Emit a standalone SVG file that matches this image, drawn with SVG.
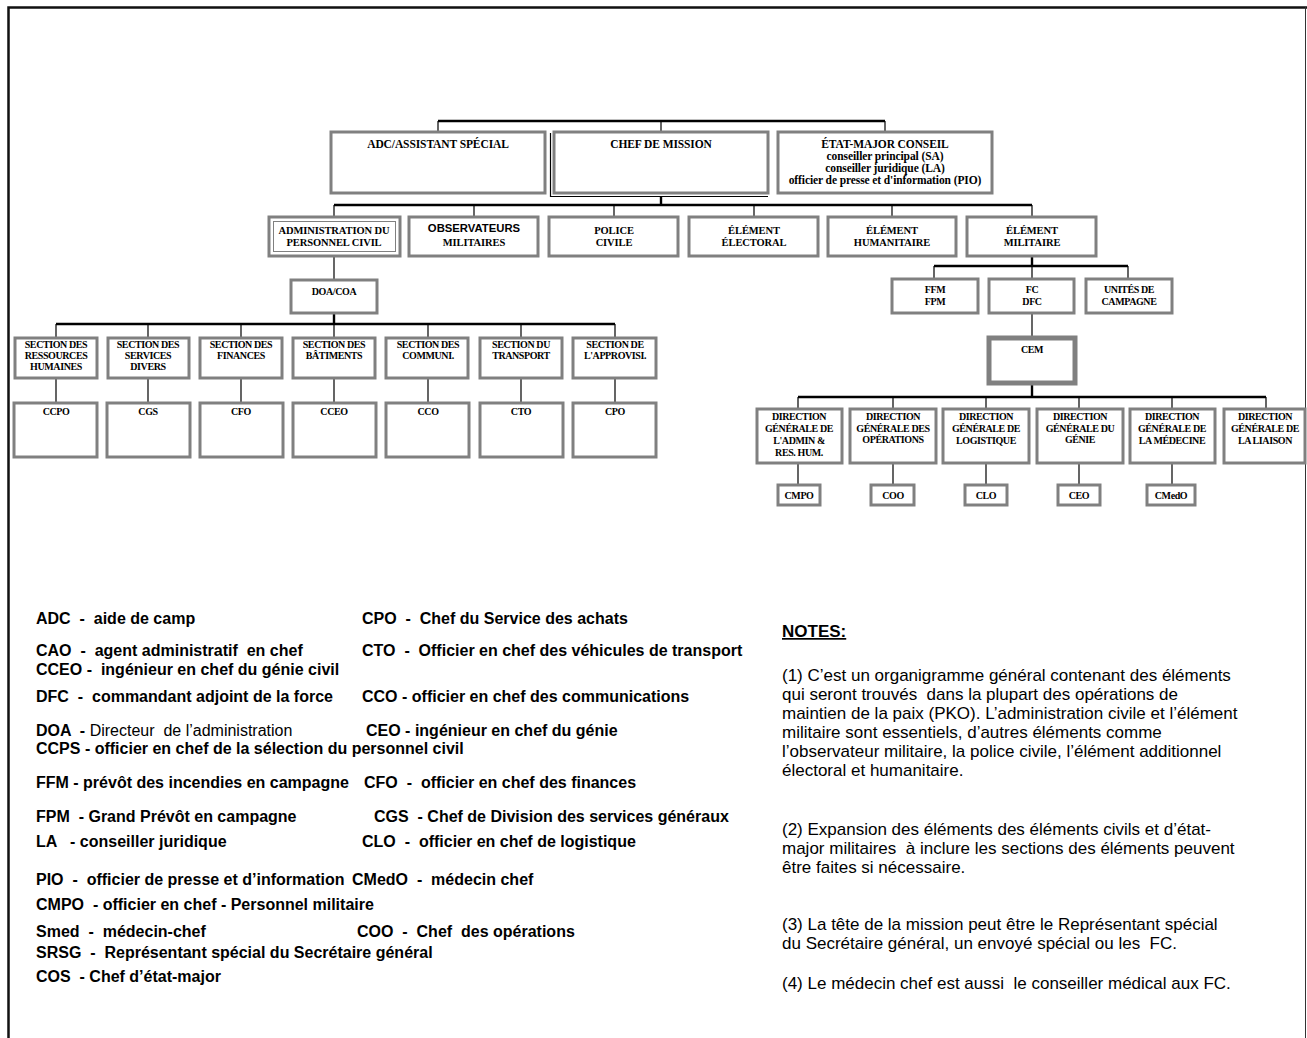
<svg xmlns="http://www.w3.org/2000/svg" width="1307" height="1038" viewBox="0 0 1307 1038">
<style>
.bg{fill:#fff}
.box{fill:#fff;stroke:#808080;stroke-width:3}
.thin{fill:none;stroke:#808080;stroke-width:1}
.cem{fill:#fff;stroke:#808080;stroke-width:5}
.bus{stroke:#000;stroke-width:2.6;fill:none}
.ln{stroke:#000;stroke-width:1.2;fill:none}
.lnk{stroke:#000;stroke-width:2.4;fill:none}
.t{font-family:"Liberation Serif","Times New Roman",serif;font-weight:bold;font-size:10px;text-anchor:middle;letter-spacing:-0.4px;fill:#000}
.t1{font-size:11.5px;letter-spacing:-0.1px}
.t2{font-size:10.5px;letter-spacing:-0.1px}
.ts{font-family:"Liberation Sans",Arial,sans-serif;font-weight:bold;font-size:11.3px;text-anchor:middle;fill:#000}
.lg{font-family:"Liberation Sans",Arial,sans-serif;font-weight:bold;font-size:16px;fill:#000;white-space:pre}
.lr{font-weight:normal}
.nt{font-family:"Liberation Sans",Arial,sans-serif;font-size:17px;fill:#000;white-space:pre}
</style>
<rect class="bg" x="0" y="0" width="1307" height="1038"/>
<path d="M8.5 1038 V7.5 H1307" stroke="#111" stroke-width="2.5" fill="none"/>
<line x1="1305.5" y1="7" x2="1305.5" y2="1038" stroke="#333" stroke-width="1"/>

<g id="connectors">
<path class="bus" d="M438 121 H885"/>
<path class="ln" d="M438 121 V132 M661 121 V132 M885 121 V132"/>
<path class="lnk" d="M661 196 V205"/>
<path class="bus" d="M334 205 H1032"/>
<path class="ln" d="M334 205 V217 M474 205 V217 M614 205 V217 M754 205 V217 M892 205 V217 M1032 205 V217"/>
<path class="ln" d="M334 256 V280"/>
<path class="lnk" d="M334 313 V324"/>
<path class="bus" d="M56 324 H615"/>
<path class="ln" d="M56 324 V338 M148 324 V338 M241 324 V338 M334 324 V338 M428 324 V338 M521 324 V338 M615 324 V338"/>
<path class="ln" d="M56 378 V403 M148 378 V403 M241 378 V403 M334 378 V403 M428 378 V403 M521 378 V403 M615 378 V403"/>
<path class="lnk" d="M1032 256 V266"/>
<path class="bus" d="M934 266 H1128"/>
<path class="ln" d="M934 266 V279 M1032 266 V279 M1128 266 V279"/>
<path class="ln" d="M1032 313 V338"/>
<path class="lnk" d="M1032 383 V397"/>
<path class="bus" d="M798 397 H1266"/>
<path class="ln" d="M798 397 V409 M893 397 V409 M986 397 V409 M1079 397 V409 M1172 397 V409 M1266 397 V409"/>
<path class="ln" d="M798 463 V485 M893 463 V485 M986 463 V485 M1079 463 V485 M1172 463 V485"/>
</g>

<g id="adc"><rect class="box" x="331" y="132" width="214" height="61"/><text class="t t1" x="438" y="147.5">ADC/ASSISTANT SPÉCIAL</text></g>
<g id="chef"><rect class="box" x="554" y="132" width="214" height="61"/><path d="M550.5 133 V196.5 H768" stroke="#000" stroke-width="1.2" fill="none"/><text class="t t1" x="661" y="147.5">CHEF DE MISSION</text></g>
<g id="etat"><rect class="box" x="778" y="132" width="214" height="61"/>
<text class="t t1" x="885" y="147.5">ÉTAT-MAJOR CONSEIL</text>
<text class="t t1" x="885" y="159.5">conseiller principal (SA)</text>
<text class="t t1" x="885" y="171.5">conseiller juridique (LA)</text>
<text class="t t1" x="885" y="183.5">officier de presse et d'information (PIO)</text></g>

<g id="admin"><rect class="box" x="269" y="217" width="131" height="39"/><rect class="thin" x="273.5" y="221.5" width="122" height="30"/>
<text class="t t2" x="334" y="233.5">ADMINISTRATION DU</text><text class="t t2" x="334" y="246">PERSONNEL CIVIL</text></g>
<g id="obs"><rect class="box" x="409" y="217" width="129" height="39"/>
<text class="ts" x="474" y="231.5">OBSERVATEURS</text><text class="t t2" x="474" y="246">MILITAIRES</text></g>
<g id="police"><rect class="box" x="549" y="217" width="129" height="39"/>
<text class="t t2" x="614" y="233.5">POLICE</text><text class="t t2" x="614" y="246">CIVILE</text></g>
<g id="electoral"><rect class="box" x="689" y="217" width="129" height="39"/>
<text class="t t2" x="754" y="233.5">ÉLÉMENT</text><text class="t t2" x="754" y="246">ÉLECTORAL</text></g>
<g id="humanitaire"><rect class="box" x="828" y="217" width="128" height="39"/>
<text class="t t2" x="892" y="233.5">ÉLÉMENT</text><text class="t t2" x="892" y="246">HUMANITAIRE</text></g>
<g id="militaire"><rect class="box" x="967" y="217" width="129" height="39"/>
<text class="t t2" x="1032" y="233.5">ÉLÉMENT</text><text class="t t2" x="1032" y="246">MILITAIRE</text></g>

<g id="doa"><rect class="box" x="291" y="280" width="86" height="33"/><text class="t" x="334" y="295">DOA/COA</text></g>

<g id="s1"><rect class="box" x="15" y="338" width="82" height="40"/><text class="t" x="56" y="348">SECTION DES</text><text class="t" x="56" y="359">RESSOURCES</text><text class="t" x="56" y="370">HUMAINES</text></g>
<g id="s2"><rect class="box" x="108" y="338" width="81" height="40"/><text class="t" x="148" y="348">SECTION DES</text><text class="t" x="148" y="359">SERVICES</text><text class="t" x="148" y="370">DIVERS</text></g>
<g id="s3"><rect class="box" x="200" y="338" width="82" height="40"/><text class="t" x="241" y="348">SECTION DES</text><text class="t" x="241" y="359">FINANCES</text></g>
<g id="s4"><rect class="box" x="293" y="338" width="82" height="40"/><text class="t" x="334" y="348">SECTION DES</text><text class="t" x="334" y="359">BÂTIMENTS</text></g>
<g id="s5"><rect class="box" x="386" y="338" width="82" height="40"/><text class="t" x="428" y="348">SECTION DES</text><text class="t" x="428" y="359">COMMUNI.</text></g>
<g id="s6"><rect class="box" x="480" y="338" width="82" height="40"/><text class="t" x="521" y="348">SECTION DU</text><text class="t" x="521" y="359">TRANSPORT</text></g>
<g id="s7"><rect class="box" x="573" y="338" width="83" height="40"/><text class="t" x="615" y="348">SECTION DE</text><text class="t" x="615" y="359">L'APPROVISI.</text></g>

<g id="ccpo"><rect class="box" x="14" y="403" width="83" height="54"/><text class="t" x="56" y="415">CCPO</text></g>
<g id="cgs"><rect class="box" x="107" y="403" width="83" height="54"/><text class="t" x="148" y="415">CGS</text></g>
<g id="cfo"><rect class="box" x="200" y="403" width="83" height="54"/><text class="t" x="241" y="415">CFO</text></g>
<g id="cceo"><rect class="box" x="293" y="403" width="83" height="54"/><text class="t" x="334" y="415">CCEO</text></g>
<g id="cco"><rect class="box" x="386" y="403" width="83" height="54"/><text class="t" x="428" y="415">CCO</text></g>
<g id="cto"><rect class="box" x="480" y="403" width="83" height="54"/><text class="t" x="521" y="415">CTO</text></g>
<g id="cpo"><rect class="box" x="573" y="403" width="83" height="54"/><text class="t" x="615" y="415">CPO</text></g>

<g id="ffm"><rect class="box" x="892" y="279" width="86" height="34"/><text class="t" x="935" y="293">FFM</text><text class="t" x="935" y="305">FPM</text></g>
<g id="fc"><rect class="box" x="989" y="279" width="85" height="34"/><text class="t" x="1032" y="293">FC</text><text class="t" x="1032" y="305">DFC</text></g>
<g id="unites"><rect class="box" x="1086" y="279" width="86" height="34"/><text class="t" x="1129" y="293">UNITÉS DE</text><text class="t" x="1129" y="305">CAMPAGNE</text></g>
<g id="cem"><rect class="cem" x="989" y="338" width="86" height="45"/><text class="t" x="1032" y="353">CEM</text></g>

<g id="d1"><rect class="box" x="757" y="409" width="85" height="54"/><text class="t" x="799" y="420">DIRECTION</text><text class="t" x="799" y="432">GÉNÉRALE DE</text><text class="t" x="799" y="444">L'ADMIN &amp;</text><text class="t" x="799" y="456">RES. HUM.</text></g>
<g id="d2"><rect class="box" x="850" y="409" width="86" height="54"/><text class="t" x="893" y="420">DIRECTION</text><text class="t" x="893" y="432">GÉNÉRALE DES</text><text class="t" x="893" y="443">OPÉRATIONS</text></g>
<g id="d3"><rect class="box" x="943" y="409" width="86" height="54"/><text class="t" x="986" y="420">DIRECTION</text><text class="t" x="986" y="432">GÉNÉRALE DE</text><text class="t" x="986" y="444">LOGISTIQUE</text></g>
<g id="d4"><rect class="box" x="1037" y="409" width="86" height="54"/><text class="t" x="1080" y="420">DIRECTION</text><text class="t" x="1080" y="432">GÉNÉRALE DU</text><text class="t" x="1080" y="443">GÉNIE</text></g>
<g id="d5"><rect class="box" x="1130" y="409" width="85" height="54"/><text class="t" x="1172" y="420">DIRECTION</text><text class="t" x="1172" y="432">GÉNÉRALE DE</text><text class="t" x="1172" y="444">LA MÉDECINE</text></g>
<g id="d6"><rect class="box" x="1224" y="409" width="81" height="54"/><text class="t" x="1265" y="420">DIRECTION</text><text class="t" x="1265" y="432">GÉNÉRALE DE</text><text class="t" x="1265" y="444">LA LIAISON</text></g>

<g id="cmpo"><rect class="box" x="778" y="485" width="42" height="20"/><text class="t" x="799" y="499">CMPO</text></g>
<g id="coo"><rect class="box" x="871" y="485" width="43" height="20"/><text class="t" x="893" y="499">COO</text></g>
<g id="clo"><rect class="box" x="965" y="485" width="42" height="20"/><text class="t" x="986" y="499">CLO</text></g>
<g id="ceo"><rect class="box" x="1058" y="485" width="42" height="20"/><text class="t" x="1079" y="499">CEO</text></g>
<g id="cmedo"><rect class="box" x="1147" y="485" width="48" height="20"/><text class="t" x="1171" y="499">CMedO</text></g>

<g id="legend">
<text class="lg" x="36" y="624">ADC  -  aide de camp</text>
<text class="lg" x="362" y="624">CPO  -  Chef du Service des achats</text>
<text class="lg" x="36" y="656">CAO  -  agent administratif  en chef</text>
<text class="lg" x="362" y="656">CTO  -  Officier en chef des véhicules de transport</text>
<text class="lg" x="36" y="675">CCEO -  ingénieur en chef du génie civil</text>
<text class="lg" x="36" y="702">DFC  -  commandant adjoint de la force</text>
<text class="lg" x="362" y="702">CCO - officier en chef des communications</text>
<text class="lg" x="36" y="736">DOA  - <tspan class="lr">Directeur  de l’administration</tspan></text>
<text class="lg" x="366" y="736">CEO - ingénieur en chef du génie</text>
<text class="lg" x="36" y="754">CCPS - officier en chef de la sélection du personnel civil</text>
<text class="lg" x="36" y="788">FFM - prévôt des incendies en campagne</text>
<text class="lg" x="364" y="788">CFO  -  officier en chef des finances</text>
<text class="lg" x="36" y="822">FPM  - Grand Prévôt en campagne</text>
<text class="lg" x="374" y="822">CGS  - Chef de Division des services généraux</text>
<text class="lg" x="36" y="847">LA   - conseiller juridique</text>
<text class="lg" x="362" y="847">CLO  -  officier en chef de logistique</text>
<text class="lg" x="36" y="885">PIO  -  officier de presse et d’information</text>
<text class="lg" x="352" y="885">CMedO  -  médecin chef</text>
<text class="lg" x="36" y="910">CMPO  - officier en chef - Personnel militaire</text>
<text class="lg" x="36" y="937">Smed  -  médecin-chef</text>
<text class="lg" x="357" y="937">COO  -  Chef  des opérations</text>
<text class="lg" x="36" y="958">SRSG  -  Représentant spécial du Secrétaire général</text>
<text class="lg" x="36" y="982">COS  - Chef d’état-major</text>
</g>

<g id="notes">
<text class="nt" x="782" y="637" font-weight="bold" text-decoration="underline">NOTES:</text>
<text class="nt" x="782" y="681">(1) C’est un organigramme général contenant des éléments</text>
<text class="nt" x="782" y="700">qui seront trouvés  dans la plupart des opérations de</text>
<text class="nt" x="782" y="719">maintien de la paix (PKO). L’administration civile et l’élément</text>
<text class="nt" x="782" y="738">militaire sont essentiels, d’autres éléments comme</text>
<text class="nt" x="782" y="757">l’observateur militaire, la police civile, l’élément additionnel</text>
<text class="nt" x="782" y="776">électoral et humanitaire.</text>
<text class="nt" x="782" y="835">(2) Expansion des éléments des éléments civils et d’état-</text>
<text class="nt" x="782" y="854">major militaires  à inclure les sections des éléments peuvent</text>
<text class="nt" x="782" y="873">être faites si nécessaire.</text>
<text class="nt" x="782" y="930">(3) La tête de la mission peut être le Représentant spécial</text>
<text class="nt" x="782" y="949">du Secrétaire général, un envoyé spécial ou les  FC.</text>
<text class="nt" x="782" y="989">(4) Le médecin chef est aussi  le conseiller médical aux FC.</text>
</g>
</svg>
